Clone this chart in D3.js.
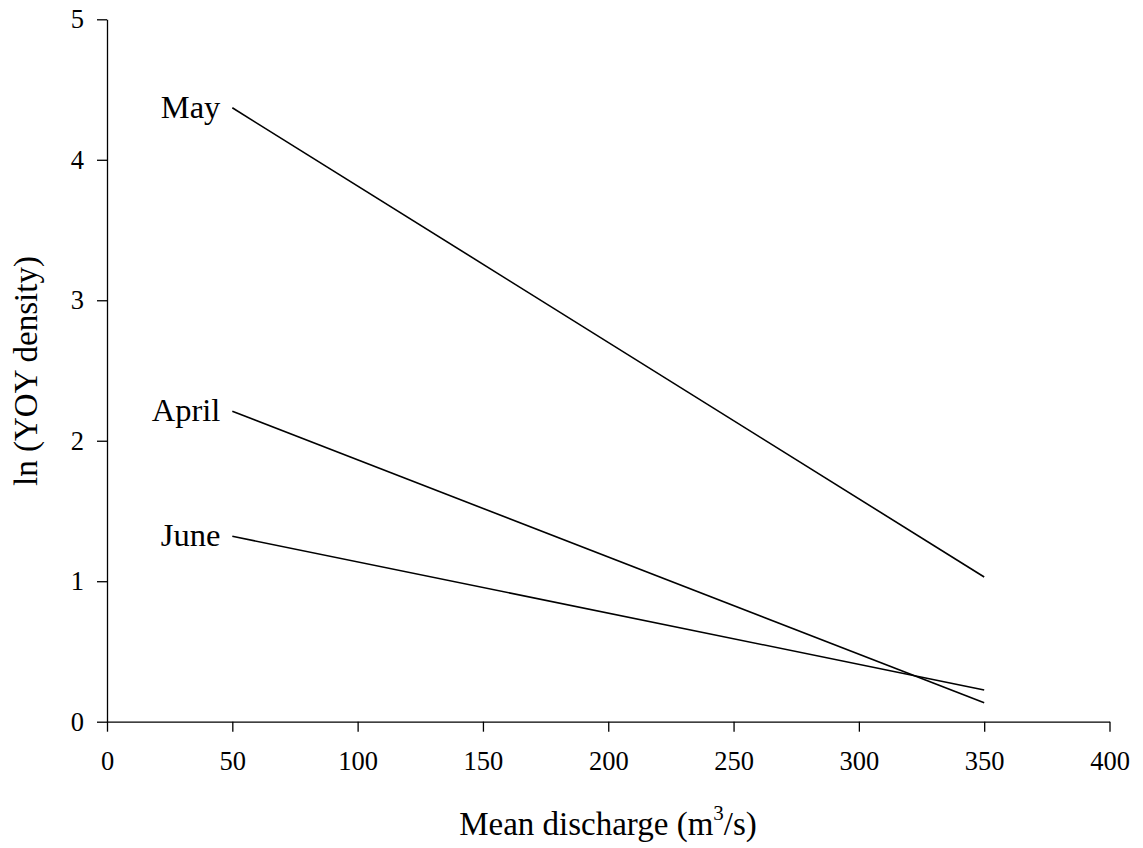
<!DOCTYPE html>
<html><head><meta charset="utf-8">
<script src="https://cdn.jsdelivr.net/npm/d3@7"></script>
<style>body{margin:0;background:#fff}</style>
</head><body>
<svg id="c" width="1143" height="848"></svg>
<script>
const months = ["May", "April", "June"];
const xStart = [50, 50, 50];
const xEnd = [350, 350, 350];
const yStart = [4.37, 2.21, 1.32];
const yEnd = [1.03, 0.135, 0.226];
const xTicks = [0, 50, 100, 150, 200, 250, 300, 350, 400];
const yTicks = [0, 1, 2, 3, 4, 5];

const svg = d3.select("#c");
const font = "'Liberation Serif', 'Times New Roman', serif";
const x = d3.scaleLinear().domain([0, 400]).range([107, 1109.5]);
const y = d3.scaleLinear().domain([0, 5]).range([721.7, 19.3]);

const xa = svg.append("g").attr("transform", `translate(0,${y(0)})`)
  .call(d3.axisBottom(x).tickValues(xTicks).tickFormat(d3.format("d")).tickSize(10).tickSizeOuter(0).tickPadding(19));
const ya = svg.append("g").attr("transform", `translate(${x(0)},0)`)
  .call(d3.axisLeft(y).tickValues(yTicks).tickFormat(d3.format("d")).tickSize(10).tickSizeOuter(0).tickPadding(13));
[xa, ya].forEach(g => {
  g.selectAll("path,line").attr("stroke", "#000").attr("stroke-width", 1.3);
  g.selectAll("text").attr("font-family", font).attr("font-size", 26.5).attr("fill", "#000");
});

const lines = months.map((m, i) => ({m, p: [[xStart[i], yStart[i]], [xEnd[i], yEnd[i]]]}));
const lg = d3.line().x(d => x(d[0])).y(d => y(d[1]));
svg.selectAll(".ln").data(lines).enter().append("path")
  .attr("d", d => lg(d.p)).attr("fill", "none").attr("stroke", "#000").attr("stroke-width", 1.6);
svg.selectAll(".lb").data(lines).enter().append("text")
  .attr("x", d => x(d.p[0][0]) - 12).attr("y", d => y(d.p[0][1]))
  .attr("dy", "0.3em").attr("text-anchor", "end")
  .attr("font-family", font).attr("font-size", 32.5).text(d => d.m);

const xt = svg.append("text").attr("x", 608).attr("y", 835).attr("text-anchor", "middle")
  .attr("font-family", font).attr("font-size", 33);
xt.append("tspan").text("Mean discharge (m");
xt.append("tspan").attr("font-size", 21).attr("dy", -15).text("3");
xt.append("tspan").attr("dy", 15).text("/s)");

svg.append("text").attr("transform", `translate(37,371) rotate(-90)`).attr("text-anchor", "middle")
  .attr("font-family", font).attr("font-size", 33).text("ln (YOY density)");
</script>
</body></html>
